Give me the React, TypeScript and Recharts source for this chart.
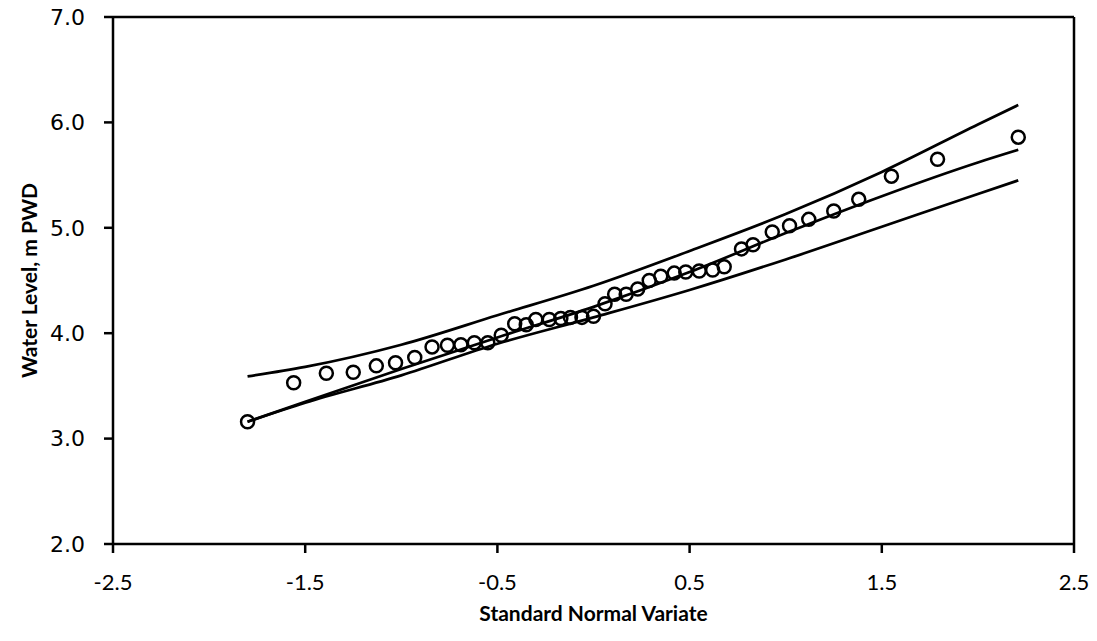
import React from "react";
import { ComposedChart, Line, Scatter, XAxis, YAxis, ReferenceLine, Label } from "recharts";

const pointX = [-1.80, -1.56, -1.39, -1.25, -1.13, -1.03, -0.93, -0.84, -0.76, -0.69, -0.62, -0.55, -0.48, -0.41, -0.35, -0.30, -0.23, -0.17, -0.12, -0.06, 0.00, 0.06, 0.11, 0.17, 0.23, 0.29, 0.35, 0.42, 0.48, 0.55, 0.62, 0.68, 0.77, 0.83, 0.93, 1.02, 1.12, 1.25, 1.38, 1.55, 1.79, 2.21];
const pointY = [3.16, 3.53, 3.62, 3.63, 3.69, 3.72, 3.77, 3.87, 3.885, 3.89, 3.91, 3.91, 3.98, 4.09, 4.08, 4.13, 4.13, 4.14, 4.15, 4.15, 4.16, 4.28, 4.37, 4.37, 4.42, 4.50, 4.54, 4.57, 4.58, 4.59, 4.60, 4.63, 4.80, 4.84, 4.96, 5.02, 5.08, 5.16, 5.27, 5.49, 5.65, 5.86];

const curveX = [-1.80, -1.5, -1.0, -0.5, 0.0, 0.5, 1.0, 1.5, 2.0, 2.21];
const fitY = [3.16, 3.35, 3.66, 3.96, 4.25, 4.58, 4.95, 5.30, 5.62, 5.74];
const upperY = [3.59, 3.68, 3.89, 4.17, 4.45, 4.78, 5.13, 5.53, 5.98, 6.165];
const lowerY = [3.16, 3.34, 3.60, 3.90, 4.15, 4.41, 4.70, 5.01, 5.32, 5.45];

const xTicks = [-2.5, -1.5, -0.5, 0.5, 1.5, 2.5];
const yTicks = [2, 3, 4, 5, 6, 7];

const points = pointX.map((x, i) => ({ x, y: pointY[i] }));
const fit = curveX.map((x, i) => ({ x, y: fitY[i] }));
const upper = curveX.map((x, i) => ({ x, y: upperY[i] }));
const lower = curveX.map((x, i) => ({ x, y: lowerY[i] }));

const titleStyle = { fill: "#000", fontSize: 21, fontWeight: "bold", fontFamily: "Lato, 'Open Sans', sans-serif" };

const Ring = (p: any) => (
  <circle cx={p.cx} cy={p.cy} r={6.5} fill="none" stroke="#000" strokeWidth={2.5} />
);

export default function App() {
  return (
    <div style={{ position: "absolute", left: 0, top: 0, width: 1097, height: 641, background: "#fff" }}>
      <ComposedChart width={1097} height={641} margin={{ top: 17, right: 23, bottom: 37, left: 0 }}>
        <XAxis
          type="number"
          dataKey="x"
          domain={[-2.5, 2.5]}
          ticks={xTicks}
          tickFormatter={(v: number) => v.toFixed(1)}
          allowDataOverflow
          height={60}
          stroke="#000"
          strokeWidth={2.5}
          tickSize={9}
          tickMargin={21}
          tick={{ fill: "#000", fontSize: 22, fontFamily: "Lato, 'Liberation Sans', sans-serif" }}
        >
          <Label
            content={(props: any) => {
              const vb = props.viewBox;
              return (
                <text x={vb.x + vb.width / 2} y={612} textAnchor="middle" dominantBaseline="central" style={titleStyle}>
                  Standard Normal Variate
                </text>
              );
            }}
          />
        </XAxis>
        <YAxis
          type="number"
          dataKey="y"
          domain={[2, 7]}
          ticks={yTicks}
          tickFormatter={(v: number) => v.toFixed(1)}
          allowDataOverflow
          width={113}
          stroke="#000"
          strokeWidth={2.5}
          tickSize={9}
          tickMargin={19}
          tick={{ fill: "#000", fontSize: 22, fontFamily: "'DejaVu Sans', sans-serif" }}
        >
          <Label
            content={(props: any) => {
              const vb = props.viewBox;
              const cx = 28;
              const cy = vb.y + vb.height / 2;
              return (
                <text
                  x={cx}
                  y={cy}
                  transform={`rotate(-90 ${cx} ${cy})`}
                  textAnchor="middle"
                  dominantBaseline="central"
                  style={titleStyle}
                >
                  Water Level, m PWD
                </text>
              );
            }}
          />
        </YAxis>
        <ReferenceLine y={7} stroke="#000" strokeWidth={2.5} ifOverflow="extendDomain" />
        <ReferenceLine x={2.5} stroke="#000" strokeWidth={2.5} ifOverflow="extendDomain" />
        <Line data={upper} dataKey="y" type="monotone" stroke="#000" strokeWidth={2.7} dot={false} isAnimationActive={false} />
        <Line data={fit} dataKey="y" type="monotone" stroke="#000" strokeWidth={2.7} dot={false} isAnimationActive={false} />
        <Line data={lower} dataKey="y" type="monotone" stroke="#000" strokeWidth={2.7} dot={false} isAnimationActive={false} />
        <Scatter data={points} dataKey="y" shape={Ring} isAnimationActive={false} />
      </ComposedChart>
    </div>
  );
}
